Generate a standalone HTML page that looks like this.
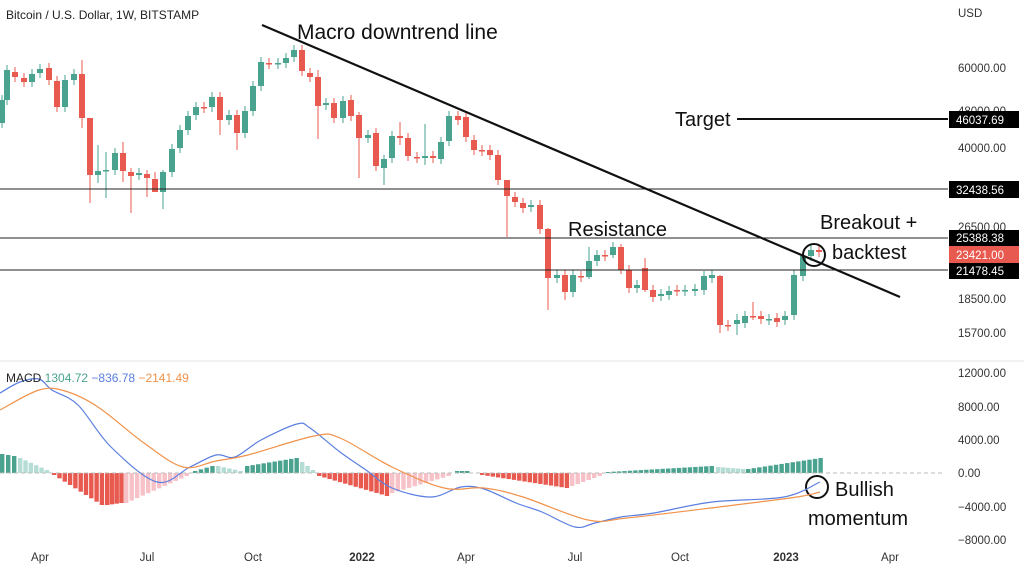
<!DOCTYPE html>
<html><head><meta charset="utf-8"><style>
html,body{margin:0;padding:0;background:#fff}
svg{display:block;font-family:"Liberation Sans",sans-serif}
</style></head><body>
<svg id="s" width="1024" height="571" viewBox="0 0 1024 571" xmlns="http://www.w3.org/2000/svg">
<rect width="1024" height="571" fill="#fff"/>
<line x1="0" y1="361" x2="1024" y2="361" stroke="#e4e4e4"/>
<g id="candles"></g>
<g id="hist"></g>
<line x1="0" y1="473" x2="945" y2="473" stroke="#bbb" stroke-dasharray="4,3"/>
<line x1="0" y1="189" x2="948" y2="189" stroke="#222" stroke-width="1"/>
<line x1="0" y1="238" x2="948" y2="238" stroke="#222" stroke-width="1"/>
<line x1="0" y1="270" x2="948" y2="270" stroke="#222" stroke-width="1"/>
<line x1="737" y1="119" x2="948" y2="119" stroke="#111" stroke-width="2"/>
<line x1="262" y1="25" x2="900" y2="297" stroke="#111" stroke-width="2.2"/>
<circle cx="814" cy="255" r="11" fill="none" stroke="#111" stroke-width="2"/>
<circle cx="817" cy="487" r="11" fill="none" stroke="#111" stroke-width="2"/>
<path id="blue" fill="none" stroke="#5b7fe0" stroke-width="1.2"/>
<path id="orange" fill="none" stroke="#f0924a" stroke-width="1.2"/>
<text x="6" y="19" font-size="12" fill="#222">Bitcoin / U.S. Dollar, 1W, BITSTAMP</text>
<text x="297" y="39" font-size="21" fill="#111">Macro downtrend line</text>
<text x="568" y="236" font-size="20" fill="#111">Resistance</text>
<text x="820" y="229" font-size="20" fill="#111">Breakout +</text>
<text x="832" y="259" font-size="20" fill="#111">backtest</text>
<text x="675" y="126" font-size="20" fill="#111">Target</text>
<text x="835" y="496" font-size="20" fill="#111">Bullish</text>
<text x="808" y="525" font-size="20" fill="#111">momentum</text>
<text x="6" y="382" font-size="12"><tspan fill="#222">MACD</tspan><tspan fill="#4aa38f"> 1304.72</tspan><tspan fill="#5b7fe0"> −836.78</tspan><tspan fill="#f0924a"> −2141.49</tspan></text>
<g font-size="11.5" fill="#333">
<text x="958" y="17">USD</text>
<text x="958" y="72">60000.00</text>
<text x="958" y="115">48000.00</text>
<text x="958" y="152">40000.00</text>
<text x="958" y="231">26500.00</text>
<text x="958" y="303">18500.00</text>
<text x="958" y="337">15700.00</text>
<text x="958" y="377">12000.00</text>
<text x="958" y="411">8000.00</text>
<text x="958" y="444">4000.00</text>
<text x="958" y="477">0.00</text>
<text x="958" y="511">−4000.00</text>
<text x="958" y="544">−8000.00</text>
</g>
<rect x="949" y="111" width="70" height="17" fill="#000"/>
<rect x="949" y="181" width="70" height="17" fill="#000"/>
<rect x="949" y="230" width="70" height="16" fill="#000"/>
<rect x="949" y="246" width="70" height="17" fill="#e8594f"/>
<rect x="949" y="263" width="70" height="16" fill="#000"/>
<g font-size="11.5" fill="#fff">
<text x="956" y="124">46037.69</text>
<text x="956" y="194">32438.56</text>
<text x="956" y="242">25388.38</text>
<text x="956" y="259">23421.00</text>
<text x="956" y="275">21478.45</text>
</g>
<g font-size="11.5" fill="#333" text-anchor="middle">
<text x="40" y="561">Apr</text>
<text x="147" y="561">Jul</text>
<text x="253" y="561">Oct</text>
<text x="362" y="561" font-weight="bold">2022</text>
<text x="466" y="561">Apr</text>
<text x="575" y="561">Jul</text>
<text x="680" y="561">Oct</text>
<text x="786" y="561" font-weight="bold">2023</text>
<text x="890" y="561">Apr</text>
</g>
</svg>
<script>
var G="#4aa38f",R="#e8594f",LG="#b5ddd6",PK="#f6c1c7",NS="http://www.w3.org/2000/svg";
function el(p,t,a){var e=document.createElementNS(NS,t);for(var k in a)e.setAttribute(k,a[k]);p.appendChild(e);}
var c=[[2,'g',100,123],[7,'g',70,100],[15,'r',72,77],[24,'r',78,82],[32,'g',74,82],[40,'g',69,73],[49,'r',68,80],[57,'r',81,107],[65,'g',80,107],[74,'g',74,80],[82,'r',74,118],[90,'r',118,175],[98,'g',171,175],[106,'g',170,171],[115,'g',153,170],[123,'r',153,171],[131,'r',172,176],[139,'g',173,175],[147,'r',174,178],[155,'r',179,192],[163,'g',172,192],[172,'g',149,172],[180,'g',130,148],[188,'g',116,130],[196,'g',107,115],[204,'r',107,108],[212,'g',97,107],[220,'r',97,120],[229,'g',115,120],[237,'r',115,133],[245,'g',111,133],[253,'g',86,111],[261,'g',62,86],[269,'r',63,64],[278,'g',63,64],[286,'g',58,63],[294,'g',50,57],[302,'r',50,71],[310,'r',73,77],[318,'r',77,106],[326,'g',103,105],[334,'r',103,118],[343,'g',101,118],[351,'r',100,116],[359,'r',115,138],[368,'g',135,138],[376,'r',133,166],[384,'g',159,168],[392,'g',136,158],[400,'r',136,138],[408,'r',138,156],[417,'r',157,158],[425,'g',156,158],[433,'r',156,158],[441,'g',142,159],[449,'g',116,141],[458,'r',116,120],[466,'r',117,137],[474,'r',140,150],[482,'r',150,151],[490,'r',150,155],[498,'r',155,180],[507,'r',180,196],[515,'r',197,202],[523,'r',203,208],[531,'g',205,207],[540,'r',205,229],[548,'r',229,278],[557,'g',275,278],[565,'r',275,292],[573,'g',275,292],[581,'r',276,277],[589,'g',261,277],[597,'g',255,261],[605,'r',255,256],[613,'g',247,255],[621,'r',247,270],[629,'r',270,288],[637,'g',285,288],[645,'r',268,290],[653,'r',290,297],[661,'g',294,296],[669,'g',291,295],[677,'r',290,291],[685,'g',290,291],[695,'g',289,291],[704,'g',276,290],[712,'g',275,278],[720,'r',276,325],[728,'r',325,326],[737,'g',320,324],[745,'g',316,323],[753,'r',316,317],[761,'r',316,319],[769,'g',319,320],[777,'r',318,322],[785,'g',316,320],[794,'g',275,315],[803,'g',256,276],[811,'g',250,256],[819,'r',250,252]];
var longw={82:[60,128],90:[118,203],98:[145,183],106:[152,198],123:[142,182],131:[168,213],147:[170,197],155:[172,192],163:[170,209],220:[92,135],237:[110,150],318:[70,139],359:[112,178],384:[155,185],400:[122,145],425:[124,165],507:[180,237],548:[228,310],565:[270,300],589:[247,279],613:[242,258],621:[244,274],645:[258,292],720:[275,333],737:[314,335],753:[302,320]};
var cg=document.getElementById('candles');
c.forEach(function(d){var col=d[1]=='g'?G:R,w=longw[d[0]]||[d[2]-5,d[3]+5];
el(cg,'line',{x1:d[0],x2:d[0],y1:w[0],y2:w[1],stroke:col,'stroke-width':1});
el(cg,'rect',{x:d[0]-3,y:d[2],width:6,height:Math.max(1.5,d[3]-d[2]),fill:col});});
var hg=document.getElementById('hist');
function seg(x0,x1,ys,ye,col){var n=Math.round((x1-x0)/5.4);for(var i=0;i<n;i++){var x=x0+i*(x1-x0)/n,y=ys+(ye-ys)*i/Math.max(1,n-1);
var top=Math.min(y,473),h=Math.abs(473-y);el(hg,'rect',{x:x,y:top,width:4.4,height:Math.max(0.8,h),fill:col});}}
seg(0,18,454,456,G);seg(18,50,458,470,LG);
seg(52,105,475,505,R);seg(105,124,505,503,R);seg(124,190,503,476,PK);
seg(193,216,471,466,G);seg(216,244,466,471,LG);seg(245,300,466,458,G);seg(300,316,462,470,LG);
seg(317,390,476,496,R);seg(390,452,493,476,PK);
seg(455,470,471,471,G);
seg(480,570,475,488,R);seg(570,603,486,476,PK);
seg(606,715,472,466,G);seg(716,746,467,469,LG);seg(746,824,469,458,G);
function smooth(id,p){var d="M"+p[0][0]+","+p[0][1];for(var i=0;i<p.length-1;i++){var a=p[i-1]||p[i],b=p[i],q=p[i+1],e=p[i+2]||q;
d+=" C"+(b[0]+(q[0]-a[0])/6)+","+(b[1]+(q[1]-a[1])/6)+" "+(q[0]-(e[0]-b[0])/6)+","+(q[1]-(e[1]-b[1])/6)+" "+q[0]+","+q[1];}
document.getElementById(id).setAttribute('d',d);}
smooth('blue',[[0,393],[20,382],[39,379],[52,390],[78,405],[111,447],[157,482],[190,467],[216,455],[235,457],[261,440],[297,424],[310,428],[340,452],[366,470],[392,488],[431,497],[461,487],[484,489],[516,503],[542,512],[575,527],[595,523],[621,517],[654,513],[712,502],[784,497],[820,482]]);
smooth('orange',[[0,410],[39,390],[65,391],[98,407],[144,443],[183,467],[216,461],[248,455],[314,436],[340,438],[392,467],[444,488],[484,488],[523,497],[588,520],[627,518],[719,507],[797,497],[820,492]]);
</script>
</body></html>
